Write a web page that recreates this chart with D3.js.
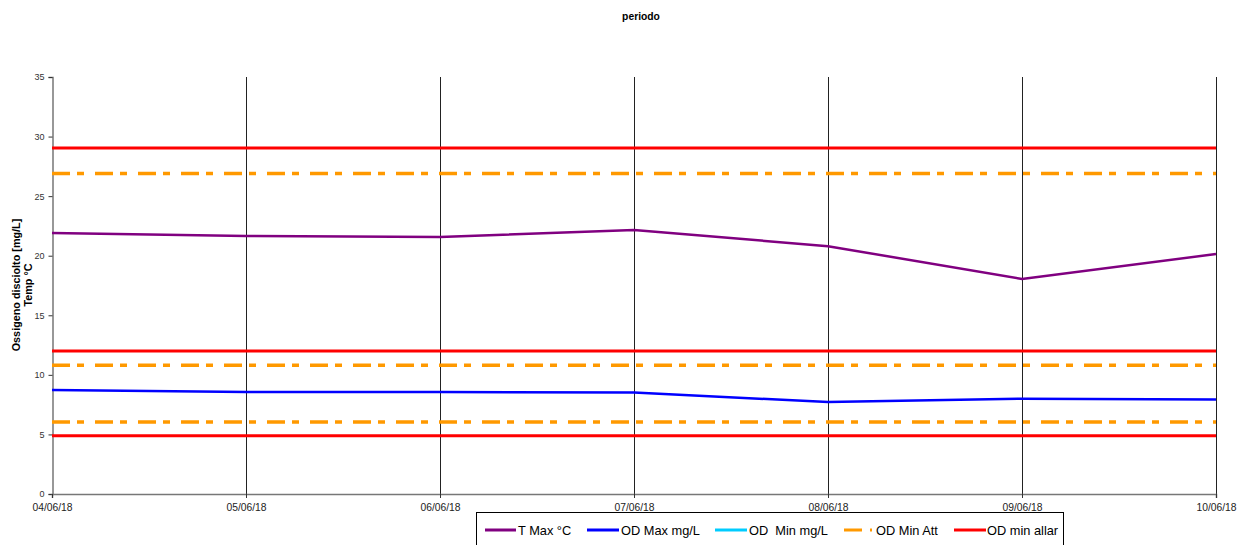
<!DOCTYPE html>
<html><head><meta charset="utf-8">
<script src="https://cdn.jsdelivr.net/npm/d3@7"></script>
<style>body{margin:0;background:#fff;}svg{font-family:"Liberation Sans",Arial,sans-serif;}</style>
</head><body><svg id="c" width="1237" height="545"></svg>
<script>
const dates = ["04/06/18","05/06/18","06/06/18","07/06/18","08/06/18","09/06/18","10/06/18"];
const tMax = [21.9, 21.65, 21.57, 22.16, 20.8, 18.05, 20.14];
const odMax = [8.73, 8.56, 8.56, 8.52, 7.72, 8.0, 7.93];
const odMin = [];
const odMinAtt = [26.9, 10.8, 6.04];
const odMinAllar = [29.05, 12.0, 4.88];
const yTicks = [0,5,10,15,20,25,30,35];

const svg = d3.select("#c");
const x = d3.scalePoint().domain(dates).range([52,1216]);
const y = d3.scaleLinear().domain([0,35]).range([494,77]);

svg.append("text").attr("x",641).attr("y",20).attr("text-anchor","middle")
  .attr("font-size",10.3).attr("font-weight","bold").text("periodo");

// vertical gridlines
svg.append("g").selectAll("line").data(dates.slice(1)).join("line")
  .attr("x1",d=>Math.round(x(d))+0.5).attr("x2",d=>Math.round(x(d))+0.5).attr("y1",y(35)).attr("y2",y(0))
  .attr("stroke","#222").attr("stroke-width",1);

// axes
const ya = svg.append("g").attr("transform","translate(52.5,0)")
  .call(d3.axisLeft(y).tickValues(yTicks).tickSize(4).tickPadding(4));
ya.select(".domain").attr("stroke","#777").attr("stroke-width",1.5);
ya.selectAll(".tick line").attr("stroke","#333");
ya.selectAll("text").attr("font-size",9).attr("fill","#333").attr("font-family","Liberation Sans, Arial");

const xa = svg.append("g").attr("transform","translate(0,494)")
  .call(d3.axisBottom(x).tickSize(4).tickPadding(6));
xa.select(".domain").attr("stroke","#777").attr("stroke-width",1.5);
xa.selectAll(".tick line").attr("stroke","#333");
xa.selectAll("text").attr("font-size",10.3).attr("fill","#222").attr("font-family","Liberation Sans, Arial");

// y label
const yl = svg.append("text").attr("transform","translate(20,285) rotate(-90)")
  .attr("text-anchor","middle").attr("font-size",10.8).attr("font-weight","bold");
yl.append("tspan").attr("x",0).attr("dy",0).text("Ossigeno disciolto [mg/L]");
yl.append("tspan").attr("x",0).attr("dy",12).text("Temp °C");

// reference lines
const dash = "18,7,7,11";
svg.append("g").selectAll("line").data(odMinAllar).join("line")
  .attr("x1",x(dates[0])).attr("x2",x(dates[dates.length-1]))
  .attr("y1",d=>y(d)).attr("y2",d=>y(d))
  .attr("stroke","#ff0000").attr("stroke-width",3);
svg.append("g").selectAll("line").data(odMinAtt).join("line")
  .attr("x1",x(dates[0])).attr("x2",x(dates[dates.length-1]))
  .attr("y1",d=>y(d)).attr("y2",d=>y(d))
  .attr("stroke","#ff9900").attr("stroke-width",3.5).attr("stroke-dasharray",dash);

const line = d3.line().x((d,i)=>x(dates[i])).y(d=>y(d));
svg.append("path").datum(tMax).attr("d",line).attr("fill","none")
  .attr("stroke","#800080").attr("stroke-width",2.5);
svg.append("path").datum(odMax).attr("d",line).attr("fill","none")
  .attr("stroke","#0000ff").attr("stroke-width",2.5);
if (odMin.length) svg.append("path").datum(odMin).attr("d",line).attr("fill","none")
  .attr("stroke","#00ccff").attr("stroke-width",2.5);

// legend
const lg = svg.append("g");
lg.append("rect").attr("x",476.5).attr("y",512.5).attr("width",587).attr("height",40)
  .attr("fill","#fff").attr("stroke","#000").attr("stroke-width",1);
const items = [
  {name:"T Max °C", color:"#800080", x0:485, x1:516, tx:518, w:3},
  {name:"OD Max mg/L", color:"#0000ff", x0:587, x1:619, tx:621, w:3},
  {name:"OD  Min mg/L", color:"#00ccff", x0:715, x1:747, tx:749, w:3},
  {name:"OD Min Att", color:"#ff9900", x0:844, x1:873, tx:876, w:3, dash:"18,8,2,20"},
  {name:"OD min allar", color:"#ff0000", x0:954, x1:986, tx:987, w:3}
];
items.forEach(it=>{
  lg.append("line").attr("x1",it.x0).attr("x2",it.x1).attr("y1",530).attr("y2",530)
    .attr("stroke",it.color).attr("stroke-width",it.w).attr("stroke-dasharray",it.dash||null);
  lg.append("text").attr("x",it.tx).attr("y",535).attr("font-size",12.8).attr("fill","#000")
    .style("white-space","pre").text(it.name);
});
</script></body></html>
